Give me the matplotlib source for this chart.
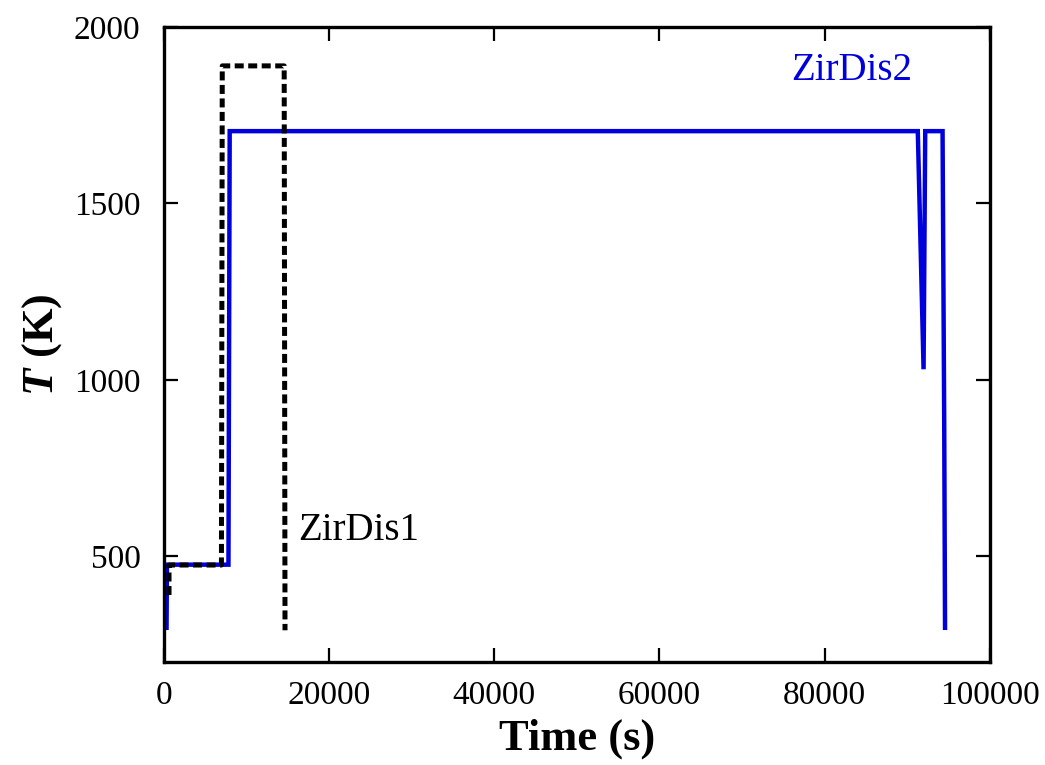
import matplotlib
matplotlib.use("Agg")
import matplotlib.pyplot as plt

# ZirDis1 (black dashed)
t1 = [600, 600, 6950, 7050, 14550, 14650]
T1 = [390, 475, 475, 1890, 1890, 290]

# ZirDis2 (blue solid)
t2 = [300, 350, 7800, 7950, 91300, 92000, 92200, 94300, 94500, 94600]
T2 = [297, 476, 476, 1705, 1705, 1030, 1705, 1705, 880, 297]

xticks = [0, 20000, 40000, 60000, 80000, 100000]
yticks = [500, 1000, 1500, 2000]

plt.rcParams['font.family'] = ['Liberation Serif', 'DejaVu Serif']
plt.rcParams['mathtext.fontset'] = 'custom'
plt.rcParams['mathtext.it'] = 'Liberation Serif:italic:bold'
plt.rcParams['mathtext.bf'] = 'Liberation Serif:bold'

fig = plt.figure(figsize=(10.45, 7.65), dpi=100)
ax = fig.add_axes([0.157, 0.1346, 0.790, 0.830])

ax.plot(t2, T2, color='#0000dd', lw=3.2, solid_joinstyle='miter', zorder=2)
ax.plot(t1, T1, color='black', lw=3.6, linestyle=(0, (1.8, 0.9)), zorder=3)

ax.set_xlim(0, 100000)
ax.set_ylim(200, 2000)
ax.set_xticks(xticks)
ax.set_xticklabels([str(v) for v in xticks])
ax.set_yticks(yticks)
ax.set_yticklabels([str(v) for v in yticks])

ax.tick_params(direction='in', length=10, width=1.6, labelsize=24,
               top=True, right=True)
ax.tick_params(axis='x', pad=13)
ax.tick_params(axis='y', pad=17)
for s in ax.spines.values():
    s.set_linewidth(2.4)

ax.set_xlabel('Time (s)', fontsize=32, fontweight='bold', labelpad=6)
ax.set_ylabel(r'$\mathit{T}$ (K)', fontsize=32, fontweight='bold', labelpad=7)

ax.text(16200, 520, 'ZirDis1', fontsize=28, color='black', ha='left', va='bottom')
ax.text(76000, 1825, 'ZirDis2', fontsize=28, color='#0000dd', ha='left', va='bottom')

fig.savefig('out.png', dpi=100)
